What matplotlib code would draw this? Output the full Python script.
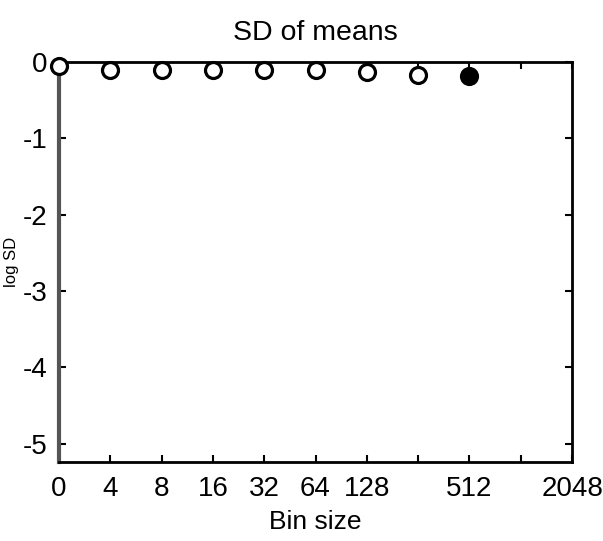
import matplotlib
matplotlib.use("Agg")
import matplotlib.pyplot as plt

# Bin sizes (log2-spaced) and the log SD of the bin means
bin_labels = ["0", "4", "8", "16", "32", "64", "128", "", "512", "", "2048"]
point_bins = ["0", "4", "8", "16", "32", "64", "128", "256", "512"]
log_sd = [-0.05, -0.10, -0.10, -0.10, -0.10, -0.10, -0.13, -0.17, -0.18]
filled = [False, False, False, False, False, False, False, False, True]

plt.rcParams["font.family"] = ["Liberation Sans", "DejaVu Sans"]

fig = plt.figure(figsize=(6.03, 5.41), dpi=100)
ax = fig.add_axes([0.0978, 0.146, 0.851, 0.7394])

xpos = list(range(len(point_bins)))
for x, y, f in zip(xpos, log_sd, filled):
    ax.plot(x, y, marker="o", markersize=11.5, markeredgewidth=2.3,
            markeredgecolor="black", markerfacecolor="black" if f else "white",
            linestyle="none", clip_on=False, zorder=3)

ax.set_xlim(0, len(bin_labels) - 1)
ax.set_ylim(-5.24, 0)
ax.set_xticks(range(len(bin_labels)))
ax.set_xticklabels(bin_labels)
ax.set_yticks([0, -1, -2, -3, -4, -5])
ax.set_yticklabels(["0", "-1", "-2", "-3", "-4", "-5"])

ax.tick_params(direction="in", length=5, width=1.5, top=True, right=True,
               labelsize=20)
ax.tick_params(axis="x", pad=10)
ax.tick_params(axis="y", pad=8)
for side in ["top", "right", "bottom"]:
    ax.spines[side].set_linewidth(2.0)
    ax.spines[side].set_color("black")
ax.spines["left"].set_linewidth(3.0)
ax.spines["left"].set_color("#555555")

ax.set_title("SD of means", fontsize=20.5, pad=16)
ax.set_xlabel("Bin size", fontsize=19, labelpad=6)
ax.set_ylabel("log SD", fontsize=12)
ax.yaxis.set_label_coords(-0.078, 0.5)

fig.savefig("out.png", dpi=100)
